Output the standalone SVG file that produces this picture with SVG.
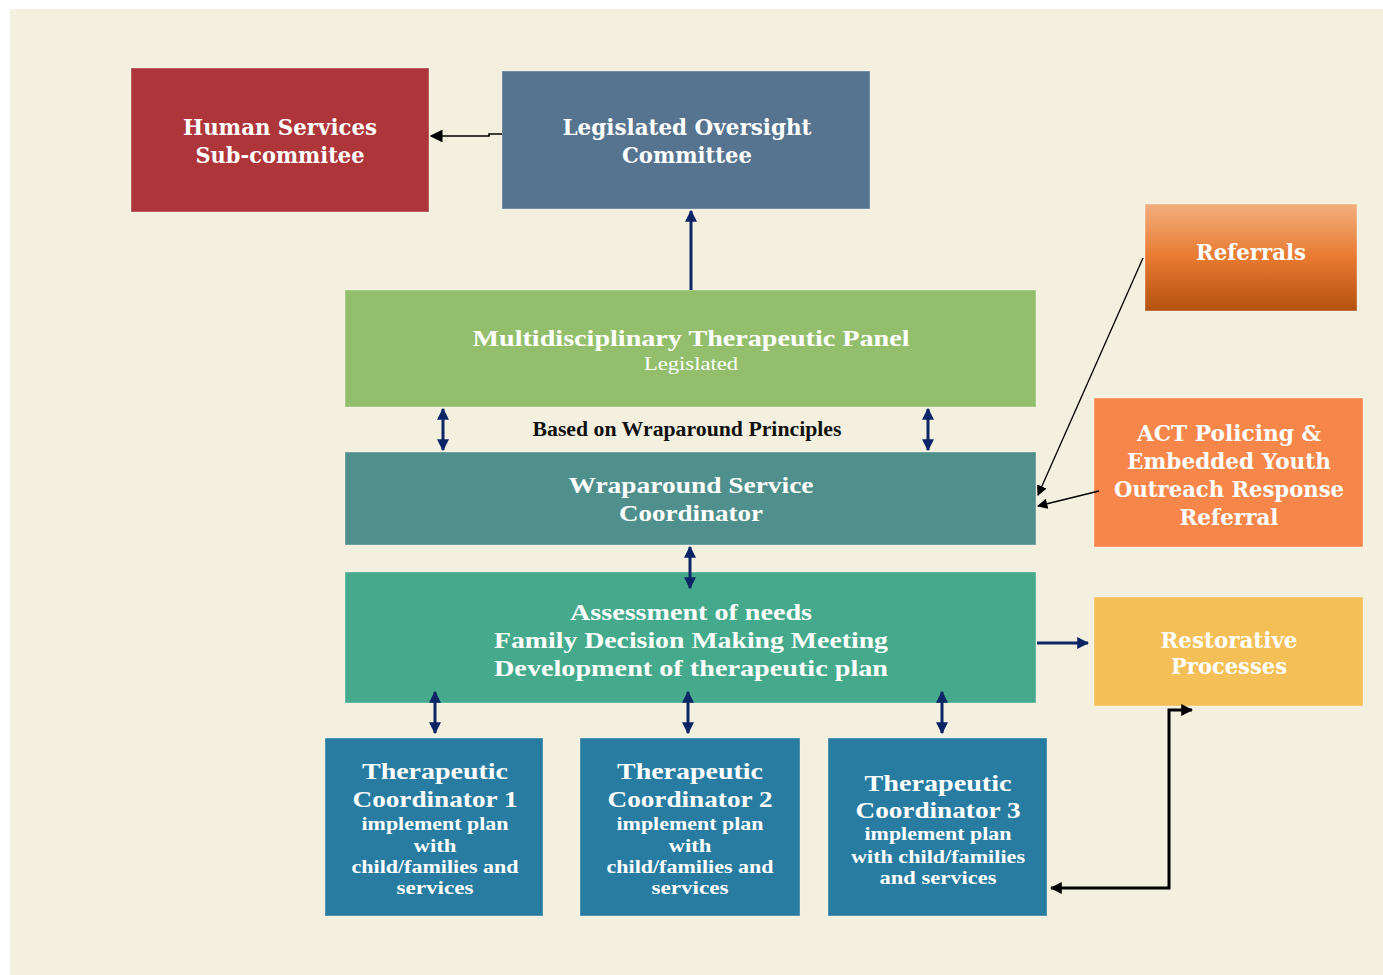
<svg xmlns="http://www.w3.org/2000/svg" width="1383" height="975" viewBox="0 0 1383 975">
<defs>
<linearGradient id="gRef" x1="0" y1="0" x2="0" y2="1">
<stop offset="0" stop-color="#F3AE7E"/>
<stop offset="0.5" stop-color="#E87A30"/>
<stop offset="1" stop-color="#B4500F"/>
</linearGradient>
<marker id="aN" viewBox="0 0 10 10" refX="9" refY="5" markerWidth="4" markerHeight="4" orient="auto-start-reverse" markerUnits="strokeWidth">
<path d="M0,0 L10,5 L0,10 z" fill="#0C2566"/>
</marker>
<marker id="aK" viewBox="0 0 10 10" refX="9" refY="5" markerWidth="4" markerHeight="4" orient="auto-start-reverse" markerUnits="strokeWidth">
<path d="M0,0 L10,5 L0,10 z" fill="#000"/>
</marker>
<marker id="aT" viewBox="0 0 10 10" refX="9" refY="5" markerWidth="8" markerHeight="8" orient="auto-start-reverse" markerUnits="strokeWidth">
<path d="M0,0 L10,5 L0,10 z" fill="#000"/>
</marker>
</defs>
<style>
.bx{stroke:#ffffff;stroke-opacity:0.35;stroke-width:1}
.tb{font-family:"DejaVu Serif","Liberation Serif",serif;font-weight:bold;font-size:21.5px;fill:#fff;text-anchor:middle}
.tc{font-family:"Liberation Serif","DejaVu Serif",serif;font-weight:bold;font-size:24px;fill:#fff;text-anchor:middle}
.ts{font-family:"Liberation Serif","DejaVu Serif",serif;font-weight:bold;font-size:19px;fill:#fff;text-anchor:middle}
.nv{stroke:#0C2566;stroke-width:3;fill:none;marker-start:url(#aN);marker-end:url(#aN)}
.nv1{stroke:#0C2566;stroke-width:3;fill:none;marker-end:url(#aN)}
.bk{stroke:#000;stroke-width:3;fill:none;marker-start:url(#aK);marker-end:url(#aK)}
.th{stroke:#000;stroke-width:1.3;fill:none;marker-end:url(#aT)}
</style>
<rect x="0" y="0" width="1383" height="975" fill="#ffffff"/>
<rect x="10" y="9" width="1373" height="966" fill="#F3F0DF"/>

<g id="human-services">
<rect class="bx" x="131" y="68" width="298" height="144" fill="#AE353A"/>
<text class="tb" x="280" y="135" textLength="194" lengthAdjust="spacingAndGlyphs">Human Services</text>
<text class="tb" x="280" y="163" textLength="169" lengthAdjust="spacingAndGlyphs">Sub-commitee</text>
</g>

<g id="oversight">
<rect class="bx" x="502" y="71" width="368" height="138" fill="#56738F"/>
<text class="tb" x="687" y="135" textLength="249" lengthAdjust="spacingAndGlyphs">Legislated Oversight</text>
<text class="tb" x="687" y="163" textLength="130" lengthAdjust="spacingAndGlyphs">Committee</text>
</g>

<g id="panel">
<rect class="bx" x="345" y="290" width="691" height="117" fill="#93BF6D"/>
<text class="tc" x="691" y="346" textLength="437" lengthAdjust="spacingAndGlyphs">Multidisciplinary Therapeutic Panel</text>
<text class="ts" x="691" y="370" textLength="94" lengthAdjust="spacingAndGlyphs" style="font-weight:normal">Legislated</text>
</g>

<g id="principles-label">
<text font-family="Liberation Serif, DejaVu Serif, serif" font-weight="bold" font-size="20" fill="#111" text-anchor="middle" x="687" y="436" textLength="309" lengthAdjust="spacingAndGlyphs">Based on Wraparound Principles</text>
</g>

<g id="wraparound">
<rect class="bx" x="345" y="452" width="691" height="93" fill="#4F8F8C"/>
<text class="tc" x="691" y="493" textLength="245" lengthAdjust="spacingAndGlyphs">Wraparound Service</text>
<text class="tc" x="691" y="521" textLength="144" lengthAdjust="spacingAndGlyphs">Coordinator</text>
</g>

<g id="assessment">
<rect class="bx" x="345" y="572" width="691" height="131" fill="#45AA8B"/>
<text class="tc" x="691" y="620" textLength="242" lengthAdjust="spacingAndGlyphs">Assessment of needs</text>
<text class="tc" x="691" y="648" textLength="394" lengthAdjust="spacingAndGlyphs">Family Decision Making Meeting</text>
<text class="tc" x="691" y="676" textLength="394" lengthAdjust="spacingAndGlyphs">Development of therapeutic plan</text>
</g>

<g id="referrals">
<rect class="bx" x="1145" y="204" width="212" height="107" fill="url(#gRef)"/>
<text class="tb" x="1251" y="260" textLength="110" lengthAdjust="spacingAndGlyphs">Referrals</text>
</g>

<g id="act-policing">
<rect class="bx" x="1094" y="398" width="269" height="149" fill="#F7864A"/>
<text class="tb" x="1229" y="441" textLength="184" lengthAdjust="spacingAndGlyphs">ACT Policing &amp;</text>
<text class="tb" x="1229" y="469" textLength="204" lengthAdjust="spacingAndGlyphs">Embedded Youth</text>
<text class="tb" x="1229" y="497" textLength="230" lengthAdjust="spacingAndGlyphs">Outreach Response</text>
<text class="tb" x="1229" y="525" textLength="99" lengthAdjust="spacingAndGlyphs">Referral</text>
</g>

<g id="restorative">
<rect class="bx" x="1094" y="597" width="269" height="109" fill="#F4BF56"/>
<text class="tb" x="1229" y="648" textLength="137" lengthAdjust="spacingAndGlyphs">Restorative</text>
<text class="tb" x="1229" y="674" textLength="116" lengthAdjust="spacingAndGlyphs">Processes</text>
</g>

<g id="tc1">
<rect class="bx" x="325" y="738" width="218" height="178" fill="#287CA1"/>
<text class="tc" x="435" y="779" textLength="146" lengthAdjust="spacingAndGlyphs">Therapeutic</text>
<text class="tc" x="435" y="807" textLength="165" lengthAdjust="spacingAndGlyphs">Coordinator 1</text>
<text class="ts" x="435" y="830" textLength="147" lengthAdjust="spacingAndGlyphs">implement plan</text>
<text class="ts" x="435" y="852" textLength="43" lengthAdjust="spacingAndGlyphs">with</text>
<text class="ts" x="435" y="873" textLength="167" lengthAdjust="spacingAndGlyphs">child/families and</text>
<text class="ts" x="435" y="894" textLength="77" lengthAdjust="spacingAndGlyphs">services</text>
</g>

<g id="tc2">
<rect class="bx" x="580" y="738" width="220" height="178" fill="#287CA1"/>
<text class="tc" x="690" y="779" textLength="146" lengthAdjust="spacingAndGlyphs">Therapeutic</text>
<text class="tc" x="690" y="807" textLength="165" lengthAdjust="spacingAndGlyphs">Coordinator 2</text>
<text class="ts" x="690" y="830" textLength="147" lengthAdjust="spacingAndGlyphs">implement plan</text>
<text class="ts" x="690" y="852" textLength="43" lengthAdjust="spacingAndGlyphs">with</text>
<text class="ts" x="690" y="873" textLength="167" lengthAdjust="spacingAndGlyphs">child/families and</text>
<text class="ts" x="690" y="894" textLength="77" lengthAdjust="spacingAndGlyphs">services</text>
</g>

<g id="tc3">
<rect class="bx" x="828" y="738" width="219" height="178" fill="#287CA1"/>
<text class="tc" x="938" y="791" textLength="147" lengthAdjust="spacingAndGlyphs">Therapeutic</text>
<text class="tc" x="938" y="818" textLength="165" lengthAdjust="spacingAndGlyphs">Coordinator 3</text>
<text class="ts" x="938" y="840" textLength="147" lengthAdjust="spacingAndGlyphs">implement plan</text>
<text class="ts" x="938" y="863" textLength="174" lengthAdjust="spacingAndGlyphs">with child/families</text>
<text class="ts" x="938" y="884" textLength="117" lengthAdjust="spacingAndGlyphs">and services</text>
</g>

<g id="connectors">
<path class="th" d="M502,134 L489,134 L489,136 L431,136" style="stroke-width:1.6"/>
<path class="nv1" d="M691,290 L691,211"/>
<path class="nv" d="M443,409 L443,450"/>
<path class="nv" d="M928,409 L928,450"/>
<path class="nv" d="M690,547 L690,588"/>
<path class="nv" d="M435,692 L435,733"/>
<path class="nv" d="M688,692 L688,733"/>
<path class="nv" d="M942,692 L942,733"/>
<path class="nv1" d="M1037,643 L1088,643"/>
<path class="bk" d="M1051,888 L1169,888 L1169,710 L1192,710"/>
<path class="th" d="M1143,258 L1038,495"/>
<path class="th" d="M1099,491 L1038,506"/>
</g>
</svg>
